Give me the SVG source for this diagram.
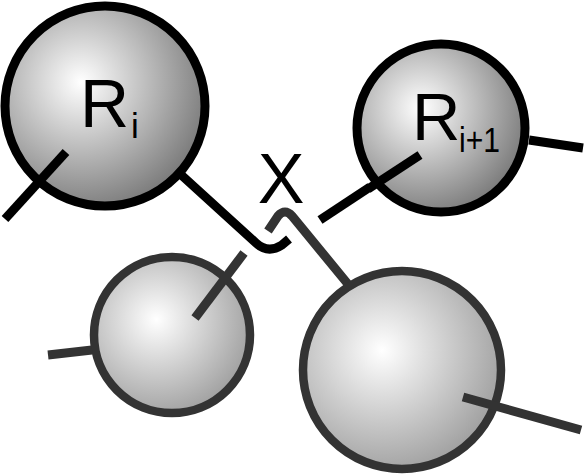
<svg xmlns="http://www.w3.org/2000/svg" width="585" height="474" viewBox="0 0 585 474">
<defs>
<radialGradient id="gTop" cx="0.38" cy="0.38" r="0.7" fx="0.38" fy="0.38">
<stop offset="0" stop-color="#ffffff"/>
<stop offset="1" stop-color="#727272"/>
</radialGradient>
<radialGradient id="gBot" cx="0.4" cy="0.4" r="0.7" fx="0.4" fy="0.4">
<stop offset="0" stop-color="#ffffff"/>
<stop offset="1" stop-color="#969696"/>
</radialGradient>
</defs>
<style>
.top{fill:url(#gTop);stroke:#000;stroke-width:9}
.bot{fill:url(#gBot);stroke:#333;stroke-width:8.5}
.lk{fill:none;stroke:#000;stroke-width:9}
.lg{fill:none;stroke:#333;stroke-width:9}
.t{font-family:"Liberation Sans",Arial,sans-serif;fill:#000}
</style>
<g id="connectors">
<path class="lk" d="M178,172 L256,243 Q268,254 282,245 L289,239"/>
<path class="lg" d="M268,231 L278,216 Q285,208 292,216 L352,289"/>
<path class="lk" d="M320,220 L370,187"/>
</g>
<g id="Ri">
<circle class="top" cx="105" cy="106" r="100"/>
<line class="lk" x1="66" y1="152" x2="5" y2="219"/>
<text class="t" x="80" y="127" font-size="68">R</text>
<text class="t" x="131" y="138" font-size="35">i</text>
</g>
<g id="Ri1">
<circle class="top" cx="441" cy="128" r="84"/>
<line class="lk" x1="420" y1="155" x2="368" y2="189"/>
<line class="lk" x1="529" y1="140" x2="583" y2="148"/>
<text class="t" x="412" y="140" font-size="67">R</text>
<text class="t" x="459" y="152" font-size="35" textLength="41" lengthAdjust="spacingAndGlyphs">i+1</text>
</g>
<g id="X">
<text class="t" x="281" y="203" font-size="70" text-anchor="middle">X</text>
</g>
<g id="S1">
<circle class="bot" cx="172" cy="335" r="78"/>
<line class="lg" x1="195" y1="318" x2="244" y2="253"/>
<line class="lg" x1="48" y1="355" x2="92" y2="350"/>
</g>
<g id="S2">
<circle class="bot" cx="402" cy="370" r="99"/>
<line class="lg" x1="463" y1="397" x2="581" y2="430"/>
</g>
</svg>
